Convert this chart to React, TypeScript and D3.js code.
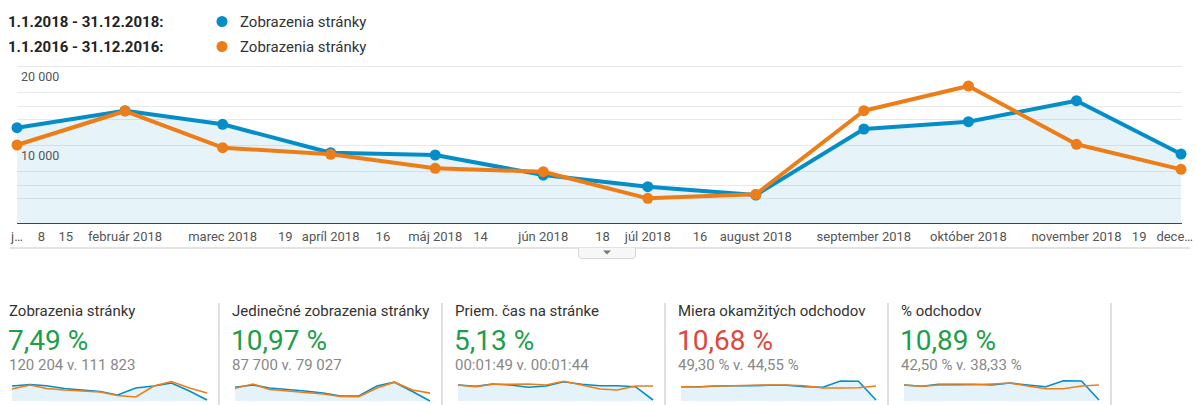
import React from 'react';
import * as d3 from 'd3';

// ---------- DATA ----------
const monthStarts = [
  '2018-01-01', '2018-02-01', '2018-03-01', '2018-04-01', '2018-05-01', '2018-06-01',
  '2018-07-01', '2018-08-01', '2018-09-01', '2018-10-01', '2018-11-01', '2018-12-01',
];
const pageViews2018 = [12190, 14340, 12620, 9025, 8734, 6200, 4720, 3670, 12025, 12950, 15610, 8860];
const pageViews2016 = [10000, 14300, 9660, 8820, 7050, 6620, 3250, 3760, 14340, 17470, 10090, 6920];

const yLabelTicks = [10000, 20000];
const yGridTicks = [3333, 5000, 6667, 10000, 13333, 15000, 16667, 20000];

const xTickDates = [
  '2018-01-01', '2018-01-08', '2018-01-15', '2018-02-01', '2018-03-01', '2018-03-19',
  '2018-04-01', '2018-04-16', '2018-05-01', '2018-05-14', '2018-06-01', '2018-06-18',
  '2018-07-01', '2018-07-16', '2018-08-01', '2018-09-01', '2018-10-01', '2018-11-01',
  '2018-11-19', '2018-12-01',
];
const xTickLabels = [
  'j…', '8', '15', 'február 2018', 'marec 2018', '19',
  'apríl 2018', '16', 'máj 2018', '14', 'jún 2018', '18',
  'júl 2018', '16', 'august 2018', 'september 2018', 'október 2018', 'november 2018',
  '19', 'dece…',
];

const legendRanges = ['1.1.2018 - 31.12.2018:', '1.1.2016 - 31.12.2016:'];
const legendMetric = 'Zobrazenia stránky';

const cardTitles = [
  'Zobrazenia stránky',
  'Jedinečné zobrazenia stránky',
  'Priem. čas na stránke',
  'Miera okamžitých odchodov',
  '% odchodov',
];
const cardChanges = ['7,49 %', '10,97 %', '5,13 %', '10,68 %', '10,89 %'];
const cardComparisons = [
  '120 204 v. 111 823',
  '87 700 v. 79 027',
  '00:01:49 v. 00:01:44',
  '49,30 % v. 44,55 %',
  '42,50 % v. 38,33 %',
];
const cardIsGood = [true, true, true, false, true];

// sparkline levels (relative units)
const sparkViews2018 = [15, 16.5, 15.3, 12.5, 11, 9.5, 6, 13, 15, 18, 10, 1];
const sparkViews2016 = [12, 16, 12.5, 11, 10, 9, 5.5, 4, 15, 19.5, 13, 8];
const sparkUnique2018 = [13.7, 16, 13, 11.5, 10, 8, 5, 5, 15, 18.8, 9.5, 0];
const sparkUnique2016 = [12.7, 17, 11.5, 10, 8.5, 7, 4.5, 4.2, 13, 18.8, 11, 7.9];
const sparkTime2018 = [16, 14.7, 17, 16, 13.7, 15, 19.3, 16.7, 15.3, 15.3, 14.3, 1];
const sparkTime2016 = [16, 14.3, 16.7, 16.7, 17, 16, 19.7, 16, 12, 11, 15, 15];
const sparkBounce2018 = [14.3, 14.3, 15, 15.3, 15.3, 15.7, 15.7, 14.3, 13.7, 20, 19.7, 1];
const sparkBounce2016 = [14.3, 14, 15, 15.3, 15.7, 16, 16, 15.3, 13, 13, 13.3, 15];
const sparkExit2018 = [16, 14.7, 16.7, 16.7, 16.7, 16, 18, 16, 14.3, 20.3, 20, 1];
const sparkExit2016 = [16, 14.7, 16, 16, 16.3, 17, 18, 15, 12.3, 12.3, 15, 16];

const spark2018 = [sparkViews2018, sparkUnique2018, sparkTime2018, sparkBounce2018, sparkExit2018];
const spark2016 = [sparkViews2016, sparkUnique2016, sparkTime2016, sparkBounce2016, sparkExit2016];

// ---------- STYLE ----------
const BLUE = '#058dc7';
const ORANGE = '#ed7e17';
const FONT = 'Roboto, Arial, sans-serif';
const W = 1196;
const H = 405;

const parse = d3.timeParse('%Y-%m-%d');

export default function App() {
  const dates = monthStarts.map((s) => parse(s) as Date);
  const x = d3.scaleTime().domain([dates[0], dates[dates.length - 1]]).range([17, 1181]);
  const y = d3.scaleLinear().domain([0, 20000]).range([224, 66]);

  const line = d3.line<number>().x((_, i) => x(dates[i])).y((d) => y(d));
  const area = d3.area<number>().x((_, i) => x(dates[i])).y0(y(0)).y1((d) => y(d));

  return (
    <div style={{ position: 'absolute', left: 0, top: 0 }}>
      <svg width={W} height={H} style={{ display: 'block', fontFamily: FONT }}>
        <rect width={W} height={H} fill="#fff" />

        {/* legend */}
        {legendRanges.map((r, i) => (
          <g key={r}>
            <text x={8} y={27 + i * 25} fontSize={15} fontWeight="bold" fill="#222">{r}</text>
            <circle cx={222} cy={21.5 + i * 25} r={5.5} fill={i === 0 ? BLUE : ORANGE} />
            <text x={240} y={27 + i * 25} fontSize={15} fill="#333">{legendMetric}</text>
          </g>
        ))}

        {/* gridlines */}
        {yGridTicks.map((t) => (
          <line key={t} x1={17} x2={1182} y1={Math.round(y(t)) + 0.5} y2={Math.round(y(t)) + 0.5}
            stroke="#e9e9e9" strokeWidth={1} />
        ))}

        {/* area */}
        <path d={area(pageViews2018) || ''} fill="rgba(5,141,199,0.1)" />

        {/* baseline */}
        <line x1={17} x2={1182} y1={223.5} y2={223.5} stroke="#444" strokeWidth={1} />

        {/* y labels */}
        {yLabelTicks.map((t) => (
          <text key={t} x={21} y={y(t) + 14.5} fontSize={12.5} fill="#555">
            {d3.format(',')(t).replace(/,/g, ' ')}
          </text>
        ))}

        {/* lines */}
        <path d={line(pageViews2018) || ''} fill="none" stroke={BLUE} strokeWidth={4} strokeLinejoin="round" />
        {pageViews2018.map((v, i) => (
          <circle key={'b' + i} cx={x(dates[i])} cy={y(v)} r={5.5} fill={BLUE} />
        ))}
        <path d={line(pageViews2016) || ''} fill="none" stroke={ORANGE} strokeWidth={4} strokeLinejoin="round" />
        {pageViews2016.map((v, i) => (
          <circle key={'o' + i} cx={x(dates[i])} cy={y(v)} r={5.5} fill={ORANGE} />
        ))}

        {/* x labels */}
        {xTickDates.map((d, i) => {
          const last = i === xTickDates.length - 1;
          return (
            <text key={d + i} x={last ? W - 3 : x(parse(d) as Date)} y={241} fontSize={13} fill="#555"
              textAnchor={last ? 'end' : 'middle'}>
              {xTickLabels[i]}
            </text>
          );
        })}

        {/* separator + tab */}
        <rect x={10} y={247} width={1180} height={2} fill="#e3e3e3" />
        <path d="M578.5,248 V255 Q578.5,258.5 582,258.5 H632 Q635.5,258.5 635.5,255 V248" fill="#f7f7f7" stroke="#d6d6d6" />
        <path d="M603,250.5 L611,250.5 L607,254.5 Z" fill="#777" />

        {/* cards */}
        {cardTitles.map((title, i) => {
          const L = 9 + 223 * i;
          const sx = d3.scaleTime().domain([dates[0], dates[dates.length - 1]]).range([L + 3, L + 198]);
          const sy = d3.scaleLinear().domain([0, 20]).range([401, 381]);
          const sLine = d3.line<number>().x((_, k) => sx(dates[k])).y((d) => sy(d));
          const sArea = d3.area<number>().x((_, k) => sx(dates[k])).y0(sy(0)).y1((d) => sy(d));
          return (
            <g key={title}>
              <text x={L} y={316} fontSize={15} fill="#333">{title}</text>
              <text x={L - 1} y={350} fontSize={28} fill={cardIsGood[i] ? '#1d9e48' : '#e0463c'}>{cardChanges[i]}</text>
              <text x={L} y={370} fontSize={15} fill="#888">{cardComparisons[i]}</text>
              <path d={sArea(spark2018[i]) || ''} fill="rgba(5,141,199,0.11)" />
              <path d={sLine(spark2018[i]) || ''} fill="none" stroke={BLUE} strokeWidth={1.6} />
              <path d={sLine(spark2016[i]) || ''} fill="none" stroke={ORANGE} strokeWidth={1.6} />
              <rect x={L + 209} y={303} width={2} height={H - 303} fill="#e0e0e0" />
            </g>
          );
        })}
      </svg>
    </div>
  );
}
